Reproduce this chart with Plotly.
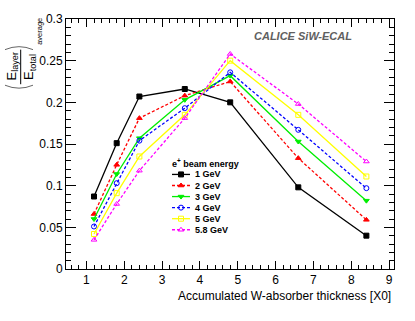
import plotly.graph_objs as go

# accumulated absorber thickness of the layers [X0]
thickness = [1.2, 1.8, 2.4, 3.6, 4.8, 6.6, 8.4]

# mean fraction of the total energy deposited in the layer
e_1gev = [0.087, 0.151, 0.207, 0.216, 0.200, 0.098, 0.040]
e_2gev = [0.066, 0.125, 0.181, 0.208, 0.225, 0.133, 0.059]
e_3gev = [0.060, 0.114, 0.157, 0.203, 0.232, 0.153, 0.082]
e_4gev = [0.051, 0.103, 0.154, 0.193, 0.236, 0.167, 0.097]
e_5gev = [0.042, 0.091, 0.135, 0.185, 0.250, 0.185, 0.111]
e_58gev = [0.035, 0.078, 0.118, 0.181, 0.258, 0.198, 0.129]

names = ['1 GeV', '2 GeV', '3 GeV', '4 GeV', '5 GeV', '5.8 GeV']
series = [e_1gev, e_2gev, e_3gev, e_4gev, e_5gev, e_58gev]

colors = ['#000000', '#ff0000', '#00ee00', '#0000ff', '#ffff00', '#ff00ff']
symbols = ['square', 'triangle-up', 'triangle-down', 'circle-open', 'square-open', 'triangle-up-open']
dashes = ['solid', '3px,2px', 'solid', '3px,2px', 'solid', '3px,2px']

W, H = 415, 321
L, R, T, B = 66, 21, 16, 52
pw, ph = W - L - R, H - T - B


def px(x):
    return (x - L) / pw


def py(y):
    return (H - B - y) / ph


font = 'Liberation Sans, Arial, sans-serif'
fig = go.Figure()


def note(x, y, text, size, xanchor='center', angle=0, color='black'):
    # annotation placed in page pixels
    fig.add_annotation(x=px(x), y=py(y), xref='paper', yref='paper', text=text, textangle=angle,
                       showarrow=False, xanchor=xanchor, yanchor='middle',
                       font=dict(family=font, size=size, color=color))


for vals, name, c, s, d in zip(series, names, colors, symbols, dashes):
    fig.add_trace(go.Scatter(x=thickness, y=vals, name=name, mode='lines+markers',
                             line=dict(color=c, width=1.3, dash=d),
                             marker=dict(symbol=s, size=5, color=c, line=dict(color=c, width=1)),
                             showlegend=False))

# hand made legend, ROOT style (tight rows), on a pixel overlay axis
leg_x0, leg_x1, leg_y0, leg_dy = 172, 190, 173.3, 11.2
for i, (name, c, s, d) in enumerate(zip(names, colors, symbols, dashes)):
    yy = leg_y0 + i * leg_dy
    fig.add_trace(go.Scatter(x=[leg_x0, leg_x1], y=[yy, yy], xaxis='x2', yaxis='y2', mode='lines',
                             line=dict(color=c, width=1.3, dash=d), showlegend=False, hoverinfo='skip'))
    fig.add_trace(go.Scatter(x=[(leg_x0 + leg_x1) / 2], y=[yy], xaxis='x2', yaxis='y2', mode='markers',
                             marker=dict(symbol=s, size=5, color=c, line=dict(color=c, width=1)),
                             showlegend=False, hoverinfo='skip'))
    note(193, yy, '<b>%s</b>' % name, 9, xanchor='left')
note(170, 161.7, '<b>e<sup>+</sup> beam energy</b>', 9, xanchor='left')

note(303, 33.5, '<b><i>CALICE SiW-ECAL</i></b>', 11, color='#606060')
note(393, 296.5, 'Accumulated W-absorber thickness [X0]', 12, xanchor='right')

# y title: (E_layer / E_total)_average
note(12, 64, 'E<sub>layer</sub>', 13, angle=-90)
note(29.5, 65, 'E<sub>total</sub>', 13, angle=-90)
note(40, 29, 'average', 7.5, angle=-90)
fig.add_shape(type='line', xref='paper', yref='paper', x0=px(20.7), x1=px(20.7), y0=py(47), y1=py(82),
              line=dict(color='black', width=1))
fig.add_shape(type='path', xref='paper', yref='paper',
              path='M %f,%f Q %f,%f %f,%f' % (px(5), py(47), px(19), py(41), px(33), py(47)),
              line=dict(color='#666666', width=1))
fig.add_shape(type='path', xref='paper', yref='paper',
              path='M %f,%f Q %f,%f %f,%f' % (px(5), py(83), px(19), py(89), px(33), py(83)),
              line=dict(color='#666666', width=1))

fig.update_layout(
    width=W, height=H, margin=dict(l=L, r=R, t=T, b=B),
    plot_bgcolor='white', paper_bgcolor='white',
    font=dict(family=font, size=12, color='black'),
    xaxis=dict(range=[0.46, 9.13], dtick=1, tick0=0, ticks='inside', ticklen=8, tickwidth=1,
               tickcolor='black', mirror='allticks', showline=True, linecolor='black', linewidth=1,
               showgrid=False, zeroline=False, tickfont=dict(size=12),
               minor=dict(dtick=0.2, tick0=0, ticks='inside', ticklen=4, tickcolor='black')),
    yaxis=dict(range=[0, 0.3], dtick=0.05, ticks='inside', ticklen=10, tickwidth=1,
               tickcolor='black', mirror='allticks', showline=True, linecolor='black', linewidth=1,
               showgrid=False, zeroline=False, tickfont=dict(size=12),
               minor=dict(dtick=0.01, ticks='inside', ticklen=5, tickcolor='black')),
    xaxis2=dict(range=[L, W - R], overlaying='x', visible=False, fixedrange=True),
    yaxis2=dict(range=[H - B, T], overlaying='y', visible=False, fixedrange=True),
)

fig.write_html("out.html", config={'displayModeBar': False},
               post_script="document.body.style.margin='0';")
